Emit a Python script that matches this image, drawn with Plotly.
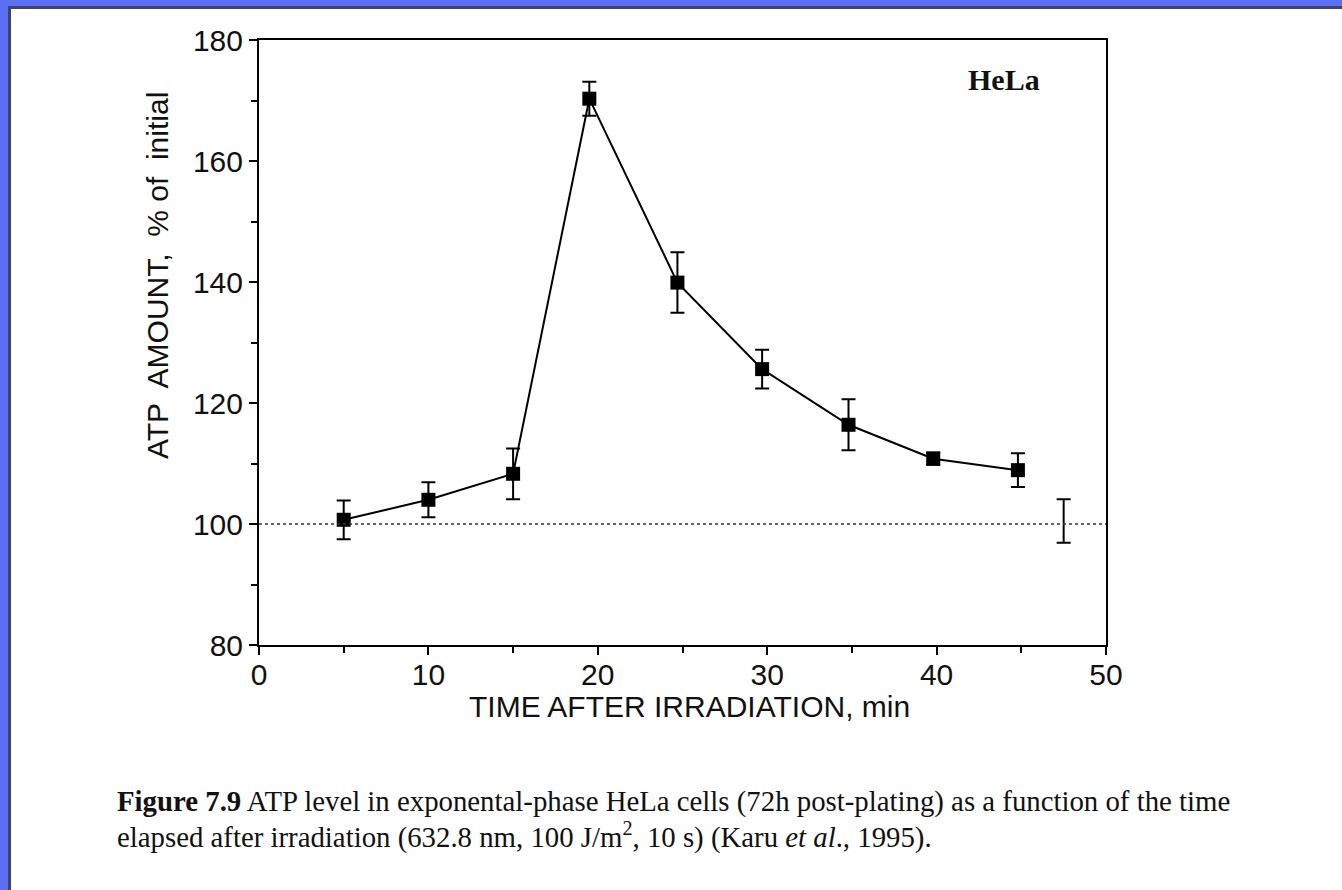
import plotly.graph_objects as go

# --- data ---
time_min = [5, 10, 15, 19.5, 24.7, 29.7, 34.8, 39.8, 44.8]
atp_pct = [100.7, 104.0, 108.3, 170.3, 139.9, 125.6, 116.4, 110.8, 108.9]
atp_err = [3.2, 2.9, 4.2, 2.8, 5.0, 3.2, 4.2, 1.0, 2.8]

control_time = [47.5]
control_pct = [100.5]
control_err = [3.6]

baseline = 100

# page geometry (pixels) -> paper coords
W, H = 1342, 890
L, R, T, B = 259, 236, 40, 245
PW, PH = W - L - R, H - T - B


def px(x):
    return (x - L) / PW


def py(y):
    return (H - B - y) / PH


fig = go.Figure()

fig.add_hline(y=baseline, line=dict(color="#333333", width=1.3, dash="dot"))

fig.add_trace(go.Scatter(
    x=time_min, y=atp_pct, mode="lines+markers",
    line=dict(color="black", width=2),
    marker=dict(symbol="square", size=14, color="black"),
    error_y=dict(type="data", array=atp_err, visible=True,
                 color="black", thickness=2, width=7),
    showlegend=False))

# untreated control (error bar only)
fig.add_trace(go.Scatter(
    x=control_time, y=control_pct, mode="markers",
    marker=dict(size=1, color="rgba(0,0,0,0)"),
    error_y=dict(type="data", array=control_err, visible=True,
                 color="black", thickness=2, width=7),
    showlegend=False))

sans = "Liberation Sans, Arial, sans-serif"
serif = "Liberation Serif, Times New Roman, serif"
axis_font = dict(family=sans, size=30, color="#111111")

fig.update_xaxes(
    range=[0, 50], tickvals=[0, 10, 20, 30, 40, 50],
    showline=True, linecolor="black", linewidth=2, mirror=True,
    ticks="outside", ticklen=8, tickwidth=2, tickcolor="black",
    minor=dict(ticks="outside", ticklen=6, tickwidth=2, tickcolor="black", dtick=5, showgrid=False),
    showgrid=False, zeroline=False, tickfont=axis_font, ticklabelstandoff=-6)

fig.update_yaxes(
    range=[80, 180], tickvals=[80, 100, 120, 140, 160, 180],
    showline=True, linecolor="black", linewidth=2, mirror=True,
    ticks="outside", ticklen=8, tickwidth=2, tickcolor="black",
    minor=dict(ticks="outside", ticklen=6, tickwidth=2, tickcolor="black", dtick=10, showgrid=False),
    showgrid=False, zeroline=False, tickfont=axis_font)

# axis titles placed as in the scan
title_font = dict(family=sans, size=30, color="#111111")
fig.add_annotation(xref="paper", yref="paper", x=px(689), y=py(706),
                   xanchor="center", yanchor="middle", showarrow=False,
                   text="TIME AFTER IRRADIATION, min", font=title_font)
fig.add_annotation(xref="paper", yref="paper", x=px(157), y=py(276),
                   xanchor="center", yanchor="middle", showarrow=False, textangle=-90,
                   text="ATP  AMOUNT,  % of  initial", font=title_font)

fig.add_annotation(x=44.0, y=173.4, text="<b>HeLa</b>", showarrow=False,
                   font=dict(family=serif, size=30, color="#111111"))

cap_font = dict(family=serif, size=28.8, color="#111111")
fig.add_annotation(xref="paper", yref="paper", x=px(115), y=py(801), xanchor="left", yanchor="middle",
                   showarrow=False, font=cap_font,
                   text="<b>Figure 7.9</b> ATP level in exponental-phase HeLa cells (72h post-plating) "
                        "as a function of the time")
fig.add_annotation(xref="paper", yref="paper", x=px(115), y=py(835), xanchor="left", yanchor="middle",
                   showarrow=False, font=cap_font,
                   text="elapsed after irradiation (632.8 nm, 100 J/m<sup>2</sup>, 10 s) "
                        "(Karu <i>et al</i>., 1995).")

# slide frame: blue strips at the left / top, dark inner edge
blue = "#5b6ff2"
fig.add_shape(type="rect", xref="paper", yref="paper", x0=px(0), x1=px(8), y0=py(H), y1=py(0),
              fillcolor=blue, line_width=0, layer="below")
fig.add_shape(type="rect", xref="paper", yref="paper", x0=px(0), x1=px(W), y0=py(6), y1=py(0),
              fillcolor=blue, line_width=0, layer="below")
fig.add_shape(type="rect", xref="paper", yref="paper", x0=px(8), x1=px(11), y0=py(H), y1=py(6),
              fillcolor="#444455", line_width=0, layer="below")
fig.add_shape(type="rect", xref="paper", yref="paper", x0=px(8), x1=px(W), y0=py(9), y1=py(6),
              fillcolor="#444455", line_width=0, layer="below")

fig.update_layout(
    width=W, height=H,
    margin=dict(l=L, r=R, t=T, b=B),
    paper_bgcolor="white", plot_bgcolor="white",
    showlegend=False,
)

# drop the browser's default body margin so the figure sits at the page corner
fig.write_html("out.html", config={"displayModeBar": False},
               post_script="document.body.style.margin='0';")
